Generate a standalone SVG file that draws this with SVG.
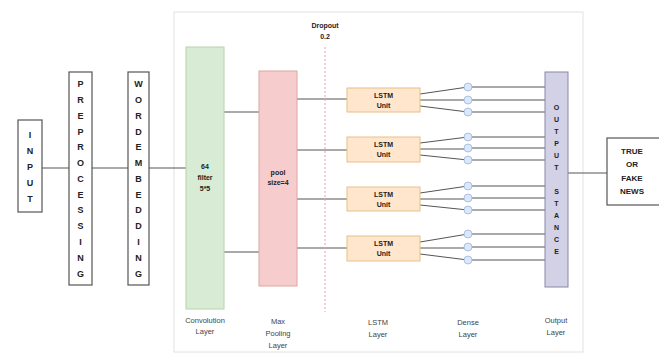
<svg xmlns="http://www.w3.org/2000/svg" width="659" height="356" viewBox="0 0 659 356">
<style>
.box{fill:#fff;stroke:#555;stroke-width:1.2}
.let{font-family:"Liberation Sans",Arial,sans-serif;font-size:9px;font-weight:bold;fill:#222;text-anchor:middle}
.sm{font-family:"Liberation Sans",Arial,sans-serif;font-size:7px;font-weight:bold;fill:#222;text-anchor:middle}
.lab{font-family:"Liberation Sans",Arial,sans-serif;font-size:7.5px;fill:#444;text-anchor:middle}
.ln{stroke:#555;stroke-width:1;fill:none}
.lstm{fill:#ffe6cc;stroke:#e6c08a;stroke-width:1}
.dn{fill:#dae8fc;stroke:#9fb4d6;stroke-width:0.8}
</style>
<rect x="0" y="0" width="659" height="356" fill="#fff"/>
<rect x="174" y="12" width="409" height="340" fill="#fff" stroke="#e2e2e2" stroke-width="1"/>
<g id="connectors">
<path class="ln" d="M42 168H69M92 168H128M149 168H186"/>
<path class="ln" d="M224 112H259M224 252H259"/>
<path class="ln" d="M297 99H347M297 150H347M297 199H347M297 248H347"/>
<path class="ln" d="M420 94L468 87M420 100H468M420 106L468 112"/>
<path class="ln" d="M420 143L468 137M420 149H468M420 155L468 160"/>
<path class="ln" d="M420 193L468 186M420 199H468M420 205L468 210"/>
<path class="ln" d="M420 242L468 234M420 248H468M420 254L468 260"/>
<path class="ln" d="M472 87H545M472 100H545M472 112H545M472 137H545M472 148H545M472 160H545M472 186H545M472 198H545M472 210H545M472 234H545M472 247H545M472 260H545"/>
<path class="ln" d="M568 173H607"/>
<path d="M325 47V312" stroke="#e8a0a8" stroke-width="1" stroke-dasharray="2 2" fill="none"/>
</g>
<g id="input">
<rect class="box" x="18" y="120" width="24" height="92"/>
<text class="let" x="30" y="138">I</text><text class="let" x="30" y="154">N</text><text class="let" x="30" y="170">P</text><text class="let" x="30" y="186">U</text><text class="let" x="30" y="202">T</text>
</g>
<g id="preprocessing">
<rect class="box" x="69" y="72" width="23" height="213"/>
<g class="let">
<text x="80.5" y="87">P</text><text x="80.5" y="103">R</text><text x="80.5" y="119">E</text><text x="80.5" y="135">P</text><text x="80.5" y="150">R</text><text x="80.5" y="166">O</text><text x="80.5" y="182">C</text><text x="80.5" y="198">E</text><text x="80.5" y="213">S</text><text x="80.5" y="229">S</text><text x="80.5" y="245">I</text><text x="80.5" y="261">N</text><text x="80.5" y="277">G</text>
</g>
</g>
<g id="wordembedding">
<rect class="box" x="128" y="72" width="21" height="213"/>
<g class="let">
<text x="138.5" y="87">W</text><text x="138.5" y="103">O</text><text x="138.5" y="119">R</text><text x="138.5" y="135">D</text><text x="138.5" y="150">E</text><text x="138.5" y="166">M</text><text x="138.5" y="182">B</text><text x="138.5" y="198">E</text><text x="138.5" y="213">D</text><text x="138.5" y="229">D</text><text x="138.5" y="245">I</text><text x="138.5" y="261">N</text><text x="138.5" y="277">G</text>
</g>
</g>
<g id="conv">
<rect x="186" y="47" width="38" height="262" fill="#d8ebd4" stroke="#b6d4ad" stroke-width="1"/>
<text class="sm" x="205" y="169">64</text><text class="sm" x="205" y="180">filter</text><text class="sm" x="205" y="191">5*5</text>
</g>
<g id="pool">
<rect x="259" y="71" width="38" height="215" fill="#f6cdcc" stroke="#dba5a3" stroke-width="1"/>
<text class="sm" x="278" y="175">pool</text><text class="sm" x="278" y="185">size=4</text>
</g>
<g id="dropout">
<text class="sm" x="325" y="28">Dropout</text><text class="sm" x="325" y="39">0.2</text>
</g>
<g id="lstm1"><rect class="lstm" x="347" y="88" width="73" height="24"/><text class="sm" x="383.5" y="98">LSTM</text><text class="sm" x="383.5" y="108">Unit</text></g>
<g id="lstm2"><rect class="lstm" x="347" y="137" width="73" height="25"/><text class="sm" x="383.5" y="147">LSTM</text><text class="sm" x="383.5" y="157">Unit</text></g>
<g id="lstm3"><rect class="lstm" x="347" y="187" width="73" height="24"/><text class="sm" x="383.5" y="197">LSTM</text><text class="sm" x="383.5" y="207">Unit</text></g>
<g id="lstm4"><rect class="lstm" x="347" y="236" width="73" height="25"/><text class="sm" x="383.5" y="246">LSTM</text><text class="sm" x="383.5" y="256">Unit</text></g>
<g id="dense">
<circle class="dn" cx="468" cy="87" r="4"/><circle class="dn" cx="468" cy="100" r="4"/><circle class="dn" cx="468" cy="112" r="4"/>
<circle class="dn" cx="468" cy="137" r="4"/><circle class="dn" cx="468" cy="148" r="4"/><circle class="dn" cx="468" cy="160" r="4"/>
<circle class="dn" cx="468" cy="186" r="4"/><circle class="dn" cx="468" cy="198" r="4"/><circle class="dn" cx="468" cy="210" r="4"/>
<circle class="dn" cx="468" cy="234" r="4"/><circle class="dn" cx="468" cy="247" r="4"/><circle class="dn" cx="468" cy="260" r="4"/>
</g>
<g id="output">
<rect x="545" y="72" width="23" height="215" fill="#d3d1e6" stroke="#8a87a8" stroke-width="1"/>
<g class="sm">
<text x="556.5" y="110">O</text><text x="556.5" y="122">U</text><text x="556.5" y="134">T</text><text x="556.5" y="146">P</text><text x="556.5" y="158">U</text><text x="556.5" y="170">T</text>
<text x="556.5" y="194">S</text><text x="556.5" y="206">T</text><text x="556.5" y="218">A</text><text x="556.5" y="230">N</text><text x="556.5" y="242">C</text><text x="556.5" y="254">E</text>
</g>
</g>
<g id="result">
<rect class="box" x="607" y="138" width="60" height="67"/>
<g class="sm" style="font-size:8px">
<text x="632" y="154">TRUE</text><text x="632" y="167">OR</text><text x="632" y="181">FAKE</text><text x="632" y="194">NEWS</text>
</g>
</g>
<g id="labels">
<text class="lab" x="205" y="323">Convolution</text><text class="lab" x="205" y="334">Layer</text>
<text class="lab" x="278" y="324">Max</text><text class="lab" x="278" y="336">Pooling</text><text class="lab" x="278" y="348">Layer</text>
<text class="lab" x="378" y="325">LSTM</text><text class="lab" x="378" y="337">Layer</text>
<text class="lab" x="468" y="325">Dense</text><text class="lab" x="468" y="337">Layer</text>
<text class="lab" x="556" y="323">Output</text><text class="lab" x="556" y="335">Layer</text>
</g>
</svg>
